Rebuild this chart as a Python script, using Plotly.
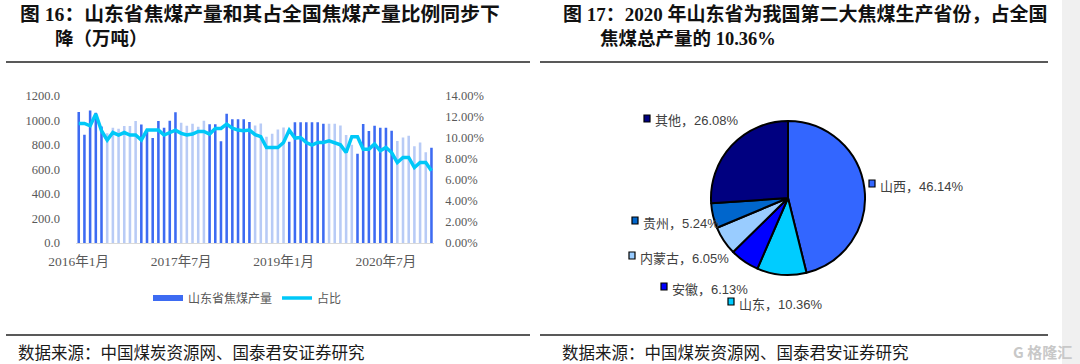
import plotly.graph_objects as go

W, H = 1080, 364

# ---------------- data ----------------
months = [f"{y}年{m}月" for y in range(2016, 2022) for m in range(1, 13)][:63]

production = [1068, 882, 1080, 1062, 950, 895, 938, 930, 953, 953, 993, 966,
              915, 855, 993, 938, 995, 1065, 980, 955, 972, 948, 996, 968,
              968, 828, 1052, 1008, 1008, 1008, 985, 958, 973, 865, 890, 925,
              941, 825, 984, 984, 984, 984, 984, 972, 972, 972, 958, 880,
              800, 728, 970, 912, 955, 938, 938, 915, 830, 860, 874, 789,
              818, 740, 775]

share = [11.36, 11.36, 11.14, 12.26, 10.67, 9.78, 10.50, 10.26, 10.50, 10.26, 10.26, 9.78,
         10.73, 10.73, 10.73, 10.26, 10.50, 10.73, 10.42, 10.26, 10.35, 10.60, 10.60, 10.35,
         10.89, 10.89, 11.30, 10.92, 10.73, 10.67, 10.73, 10.30, 10.10, 9.08, 9.08, 9.08,
         9.55, 10.73, 9.97, 10.03, 9.55, 9.30, 9.55, 9.55, 9.71, 9.55, 9.33, 8.60,
         10.10, 10.10, 8.92, 8.92, 9.40, 8.76, 9.08, 8.60, 7.65, 8.13, 8.13, 7.17,
         7.65, 7.65, 6.86]

tick_months = [months[0], months[18], months[36], months[54]]

pie_labels = ["山西", "山东", "安徽", "内蒙古", "贵州", "其他"]
pie_values = [46.14, 10.36, 6.13, 6.05, 5.24, 26.08]

# ---------------- styles ----------------
DARK = "#3D6BF2"
LIGHT = "#B8CBF6"
CYAN = "#00C8F8"
# moire-like alternating appearance of thin bars in the reference
light_runs = [(5, 10), (18, 22), (31, 36), (44, 48), (56, 61)]
bar_colors = [LIGHT if any(a <= i <= b for a, b in light_runs) else DARK for i in range(len(production))]
pie_colors = ["#3366FF", "#00CCFF", "#0000FF", "#99CCFF", "#0066CC", "#000080"]

SERIF = "Liberation Serif, Noto Sans CJK SC"
SANS = "Liberation Sans, Noto Sans CJK SC"
CJK = "Noto Sans CJK SC"


def px(x):
    return x / W


def py(y):
    return 1 - y / H


fig = go.Figure()

fig.add_trace(go.Bar(x=months, y=production, marker=dict(color=bar_colors, line=dict(width=0)),
                     showlegend=False, name="山东省焦煤产量"))
fig.add_trace(go.Scatter(x=[None], y=[None], mode="lines", line=dict(color=DARK, width=6),
                         name="山东省焦煤产量"))
fig.add_trace(go.Scatter(x=months, y=[v / 100 for v in share], mode="lines", yaxis="y2",
                         line=dict(color=CYAN, width=3.5), name="占比"))

fig.add_trace(go.Pie(labels=pie_labels, values=pie_values, sort=False, direction="clockwise",
                     rotation=0, marker=dict(colors=pie_colors, line=dict(color="#000000", width=2)),
                     textinfo="none", hoverinfo="label+percent", showlegend=False, automargin=False,
                     domain=dict(x=[px(788 - 77), px(788 + 77)], y=[py(198 + 77), py(198 - 77)])))

x0, x1 = 75.9, 434.3
fig.update_layout(
    width=W, height=H, margin=dict(l=0, r=0, t=0, b=0, autoexpand=False),
    paper_bgcolor="white", plot_bgcolor="white",
    bargap=0.55,
    xaxis=dict(domain=[px(x0), px(x1)], type="category", range=[-0.5, len(months) - 0.5],
               tickvals=tick_months, ticktext=tick_months, showgrid=False, showline=True,
               linecolor="#D9D9D9", linewidth=1, ticks="", ticklabelstandoff=6, automargin=False,
               tickfont=dict(family=SERIF, size=13.5, color="#595959")),
    yaxis=dict(domain=[py(243), py(95.7)], range=[0, 1200], tickvals=list(range(0, 1201, 200)),
               tickformat=".1f", showgrid=False, zeroline=False, ticks="", ticklabelstandoff=15,
               automargin=False, tickfont=dict(family=SERIF, size=12.5, color="#595959")),
    yaxis2=dict(overlaying="y", side="right", range=[0, 0.14],
                tickvals=[i * 0.02 for i in range(8)], tickformat=".2%", showgrid=False,
                zeroline=False, ticks="", ticklabelstandoff=10, automargin=False,
                tickfont=dict(family=SERIF, size=12.5, color="#595959")),
    legend=dict(orientation="h", x=px(148), y=py(298), xanchor="left", yanchor="middle",
                itemwidth=30, font=dict(family=CJK, size=12, color="#595959"),
                bgcolor="rgba(0,0,0,0)"),
)

annotations = []
title_font = dict(family=SERIF, size=18.5, color="#111111", weight="bold")
annotations.append(dict(text="图 16：山东省焦煤产量和其占全国焦煤产量比例同步下", x=px(18), y=py(14),
                        xanchor="left", yanchor="middle",
                        font=dict(family=SERIF, size=19.8, color="#111111", weight="bold")))
annotations.append(dict(text="降（万吨）", x=px(53), y=py(39),
                        xanchor="left", yanchor="middle", font=title_font))
annotations.append(dict(text="图 17：2020 年山东省为我国第二大焦煤生产省份，占全国", x=px(561), y=py(14),
                        xanchor="left", yanchor="middle",
                        font=dict(family=SERIF, size=19, color="#111111", weight="bold")))
annotations.append(dict(text="焦煤总产量的 10.36%", x=px(598), y=py(39),
                        xanchor="left", yanchor="middle", font=title_font))

src_font = dict(family=CJK, size=16.5, color="#1a1a1a")
annotations.append(dict(text="数据来源：中国煤炭资源网、国泰君安证券研究", x=px(16), y=py(352),
                        xanchor="left", yanchor="middle", font=src_font))
annotations.append(dict(text="数据来源：中国煤炭资源网、国泰君安证券研究", x=px(560), y=py(352),
                        xanchor="left", yanchor="middle", font=src_font))
annotations.append(dict(text="G 格隆汇", x=px(1074), y=py(351), xanchor="right", yanchor="middle",
                        font=dict(family=CJK, size=15, color="#C8C8C8", weight="bold")))

# pie labels with colour keys
label_pos = {"山西": (872, 185), "山东": (731, 303), "安徽": (664, 288),
             "内蒙古": (632, 257), "贵州": (635, 222), "其他": (647, 120)}
shapes = []
for name, val, col in zip(pie_labels, pie_values, pie_colors):
    lx, ly = label_pos[name]
    shapes.append(dict(type="rect", xref="paper", yref="paper", x0=px(lx - 3), x1=px(lx + 3),
                       y0=py(ly - 5), y1=py(ly + 2), fillcolor=col,
                       line=dict(color="#000000", width=1.2)))
    annotations.append(dict(text=f"{name}，{val:.2f}%", x=px(lx + 6), y=py(ly + 1),
                            xanchor="left", yanchor="middle",
                            font=dict(family=SANS, size=13, color="#404040")))

for xa, xb in [(6, 530), (540, 1048)]:
    for yy in (62, 335):
        shapes.append(dict(type="line", xref="paper", yref="paper", x0=px(xa), x1=px(xb),
                           y0=py(yy), y1=py(yy), line=dict(color="#222222", width=1.5)))
shapes.append(dict(type="rect", xref="paper", yref="paper", x0=px(1062), x1=1, y0=0, y1=1,
                   fillcolor="#F0F0F0", line=dict(width=0), layer="below"))

for a in annotations:
    a.setdefault("xref", "paper")
    a.setdefault("yref", "paper")
    a.setdefault("showarrow", False)
fig.update_layout(annotations=annotations, shapes=shapes)

fig.write_html("out.html", config={"displayModeBar": False},
               post_script="document.body.style.margin='0';document.body.style.overflow='hidden';")
